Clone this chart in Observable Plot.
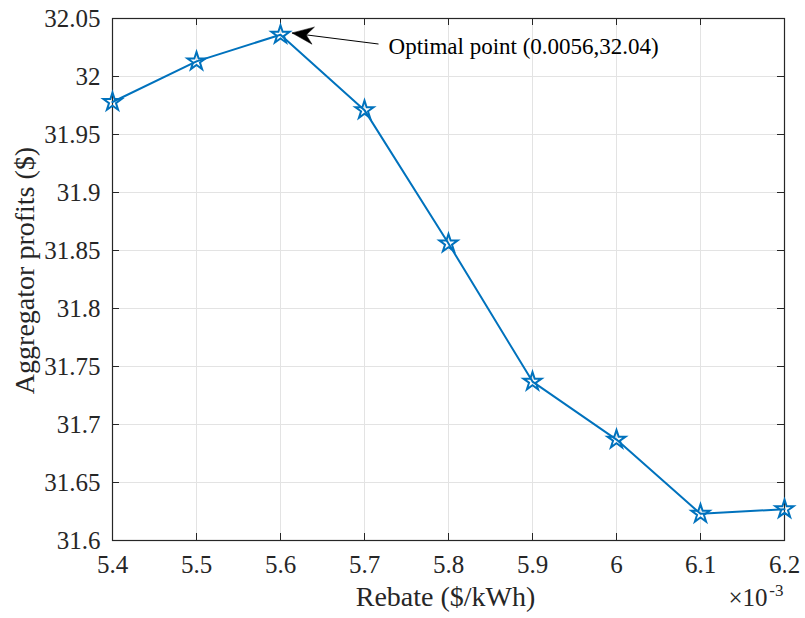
<!DOCTYPE html>
<html>
<head>
<meta charset="utf-8">
<script src="https://cdn.jsdelivr.net/npm/d3@7"></script>
<script src="https://cdn.jsdelivr.net/npm/@observablehq/plot@0.6"></script>
<style>
  html, body { margin: 0; padding: 0; background: #fff; }
  #chart svg { display: block; }
</style>
</head>
<body>
<div id="chart"></div>
<script>
// Data
const rebate = [0.0054, 0.0055, 0.0056, 0.0057, 0.0058, 0.0059, 0.0060, 0.0061, 0.0062];
const profits = [31.978, 32.013, 32.036, 31.971, 31.856, 31.737, 31.687, 31.623, 31.627];
const xTicks = [0.0054, 0.0055, 0.0056, 0.0057, 0.0058, 0.0059, 0.0060, 0.0061, 0.0062];
const yTicks = [31.6, 31.65, 31.7, 31.75, 31.8, 31.85, 31.9, 31.95, 32, 32.05];
const annotationText = ["Optimal point (0.0056,32.04)"];
const annotationPos = [{x: 5.7286e-3, y: 32.0256}];
const arrowData = [{x1: 0.0057167, y1: 32.028, x2: 0.005614, y2: 32.0374}];

const data = rebate.map((r, i) => ({rebate: r, profit: profits[i]}));

const W = 805, H = 618;
const mL = 112, mR = 21, mT = 18, mB = 78;
const plotW = W - mL - mR, plotH = H - mT - mB;
const font = "Liberation Serif";
const axisColor = "#262626";
const gridColor = "#e3e3e3";
const blue = "#0072BD";
const tickLen = 7;

const headShape = {
  draw(context, l, r) {
    context.moveTo(0, 0);
    context.lineTo(-8.5, 21);
    context.lineTo(0, 14);
    context.lineTo(8.5, 21);
    context.closePath();
  }
};

const chart = Plot.plot({
  width: W,
  height: H,
  marginLeft: mL,
  marginRight: mR,
  marginTop: mT,
  marginBottom: mB,
  style: {fontFamily: font, background: "#fff", color: axisColor},
  x: {domain: [0.0054, 0.0062], axis: null},
  y: {domain: [31.6, 32.05], axis: null},
  marks: [
    // grid
    Plot.ruleX(xTicks, {stroke: gridColor, strokeWidth: 1}),
    Plot.ruleY(yTicks, {stroke: gridColor, strokeWidth: 1}),
    // tick labels
    Plot.text(xTicks, {x: d => d, frameAnchor: "bottom", dy: 24, lineAnchor: "middle", textAnchor: "middle",
      text: d => String(+(d * 1000).toFixed(1)), fontSize: 25, fontFamily: font, fill: axisColor}),
    Plot.text(yTicks, {y: d => d, frameAnchor: "left", dx: -12, lineAnchor: "middle", textAnchor: "end",
      text: d => String(+d.toFixed(2)), fontSize: 25, fontFamily: font, fill: axisColor}),
    // inward ticks on all four sides
    Plot.tickX(xTicks, {insetTop: plotH - tickLen, stroke: axisColor, strokeWidth: 1}),
    Plot.tickX(xTicks, {insetBottom: plotH - tickLen, stroke: axisColor, strokeWidth: 1}),
    Plot.tickY(yTicks, {insetRight: plotW - tickLen, stroke: axisColor, strokeWidth: 1}),
    Plot.tickY(yTicks, {insetLeft: plotW - tickLen, stroke: axisColor, strokeWidth: 1}),
    Plot.frame({stroke: axisColor, strokeWidth: 1.2}),
    // data
    Plot.line(data, {x: "rebate", y: "profit", stroke: blue, strokeWidth: 2}),
    Plot.dot(data, {x: "rebate", y: "profit", symbol: "star", r: 5.7, stroke: blue, strokeWidth: 2, fill: "none"}),
    // annotation
    Plot.link(arrowData, {x1: "x1", y1: "y1", x2: "x2", y2: "y2", stroke: "#000", strokeWidth: 1}),
    Plot.vector(arrowData, {x: "x2", y: "y2", length: 21, rotate: 277.3, anchor: "start", shape: headShape, fill: "#000", stroke: "#000", strokeWidth: 0.5}),
    Plot.text(annotationPos, {x: "x", y: "y", text: () => annotationText[0], textAnchor: "start", lineAnchor: "middle", fontSize: 23, fontFamily: font, fill: "#000"}),
    // axis titles
    Plot.text(["Rebate ($/kWh)"], {frameAnchor: "bottom", dx: -3, dy: 57, textAnchor: "middle", lineAnchor: "middle", fontSize: 28, fontFamily: font, fill: axisColor, text: d => d}),
    Plot.text(["Aggregator profits ($)"], {frameAnchor: "left", dx: -87, dy: -9, rotate: -90, textAnchor: "middle", lineAnchor: "middle", fontSize: 28, fontFamily: font, fill: axisColor, text: d => d}),
    Plot.text(["\u00d710"], {frameAnchor: "bottom-right", dx: -17, dy: 57, textAnchor: "end", lineAnchor: "middle", fontSize: 25, fontFamily: font, fill: axisColor, text: d => d}),
    Plot.text(["-3"], {frameAnchor: "bottom-right", dx: -1, dy: 50, textAnchor: "end", lineAnchor: "middle", fontSize: 17, fontFamily: font, fill: axisColor, text: d => d})
  ]
});

document.getElementById("chart").appendChild(chart);
</script>
</body>
</html>
